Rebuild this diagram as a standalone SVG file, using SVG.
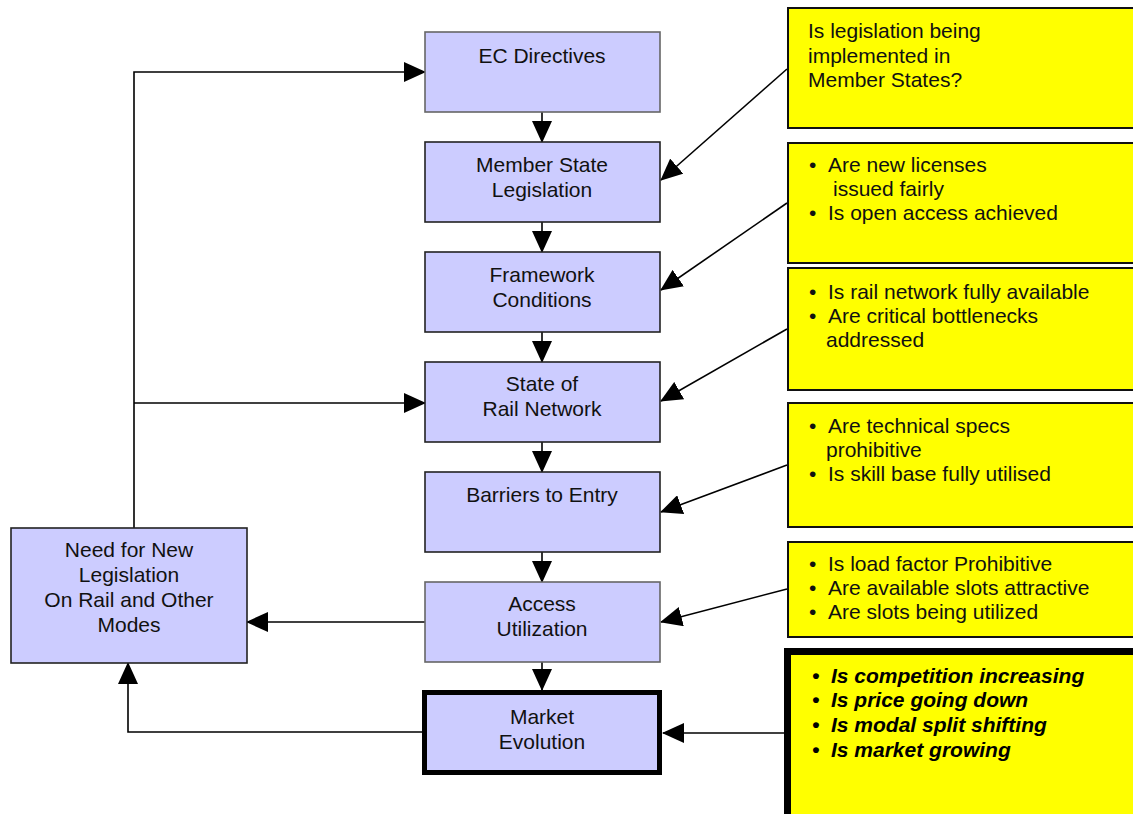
<svg xmlns="http://www.w3.org/2000/svg" width="1133" height="814" viewBox="0 0 1133 814">
<defs>
<marker id="ah" markerUnits="userSpaceOnUse" markerWidth="22" markerHeight="20" refX="21" refY="10" orient="auto">
<path d="M0,0 L22,10 L0,20 Z" fill="#000"/>
</marker>
<style>
.box{fill:#CCCCFF;stroke:#222;stroke-width:1.6}
.boxg{fill:#CCCCFF;stroke:#666;stroke-width:1.6}
.ybox{fill:#FFFF00;stroke:#111;stroke-width:2}
.t{font-family:"Liberation Sans",Arial,sans-serif;font-size:21px;fill:#111;text-anchor:middle}
.y{font-family:"Liberation Sans",Arial,sans-serif;font-size:21px;fill:#111}
.yb{font-family:"Liberation Sans",Arial,sans-serif;font-size:21px;fill:#000;font-weight:bold;font-style:italic}
.c{fill:none;stroke:#000;stroke-width:1.6}
</style>
</defs>
<rect width="1133" height="814" fill="#fff"/>

<g id="connectors">
<path class="c" d="M134,528 V72 H425" marker-end="url(#ah)"/>
<path class="c" d="M134,403 H425" marker-end="url(#ah)"/>
<path class="c" d="M425,622 H247" marker-end="url(#ah)"/>
<path class="c" d="M422,732 H128 V663" marker-end="url(#ah)"/>
<path class="c" d="M542,112 V142" marker-end="url(#ah)"/>
<path class="c" d="M542,222 V252" marker-end="url(#ah)"/>
<path class="c" d="M542,332 V362" marker-end="url(#ah)"/>
<path class="c" d="M542,442 V472" marker-end="url(#ah)"/>
<path class="c" d="M542,552 V582" marker-end="url(#ah)"/>
<path class="c" d="M542,662 V690" marker-end="url(#ah)"/>
<path class="c" d="M787,69 L661,180" marker-end="url(#ah)"/>
<path class="c" d="M787,203 L661,290" marker-end="url(#ah)"/>
<path class="c" d="M787,329 L661,401" marker-end="url(#ah)"/>
<path class="c" d="M787,465 L661,512" marker-end="url(#ah)"/>
<path class="c" d="M787,589 L661,622" marker-end="url(#ah)"/>
<path class="c" d="M784,733 L663,733" marker-end="url(#ah)"/>
</g>

<g id="ec-directives">
<rect class="boxg" x="425" y="32" width="235" height="80"/>
<text class="t" x="542" y="63">EC Directives</text>
</g>
<g id="member-state">
<rect class="box" x="425" y="142" width="235" height="80"/>
<text class="t" x="542" y="172">Member State</text>
<text class="t" x="542" y="197">Legislation</text>
</g>
<g id="framework">
<rect class="box" x="425" y="252" width="235" height="80"/>
<text class="t" x="542" y="282">Framework</text>
<text class="t" x="542" y="307">Conditions</text>
</g>
<g id="state-rail">
<rect class="box" x="425" y="362" width="235" height="80"/>
<text class="t" x="542" y="391">State of</text>
<text class="t" x="542" y="416">Rail Network</text>
</g>
<g id="barriers">
<rect class="box" x="425" y="472" width="235" height="80"/>
<text class="t" x="542" y="502">Barriers to Entry</text>
</g>
<g id="access">
<rect class="boxg" x="425" y="582" width="235" height="80"/>
<text class="t" x="542" y="611">Access</text>
<text class="t" x="542" y="636">Utilization</text>
</g>
<g id="market">
<rect x="424.5" y="692.5" width="235" height="80" fill="#CCCCFF" stroke="#000" stroke-width="5"/>
<text class="t" x="542" y="724">Market</text>
<text class="t" x="542" y="749">Evolution</text>
</g>
<g id="need">
<rect class="box" x="11" y="528" width="236" height="135"/>
<text class="t" x="129" y="557">Need for New</text>
<text class="t" x="129" y="582">Legislation</text>
<text class="t" x="129" y="607">On Rail and Other</text>
<text class="t" x="129" y="632">Modes</text>
</g>

<g id="q1">
<rect class="ybox" x="788" y="8" width="360" height="120"/>
<text class="y" x="808" y="38">Is legislation being</text>
<text class="y" x="808" y="63">implemented in</text>
<text class="y" x="808" y="87">Member States?</text>
</g>
<g id="q2">
<rect class="ybox" x="788" y="143" width="360" height="120"/>
<text class="y" x="809" y="172">•</text><text class="y" x="828" y="172">Are new licenses</text>
<text class="y" x="833" y="196">issued fairly</text>
<text class="y" x="809" y="220">•</text><text class="y" x="828" y="220">Is open access achieved</text>
</g>
<g id="q3">
<rect class="ybox" x="788" y="268" width="360" height="122"/>
<text class="y" x="809" y="299">•</text><text class="y" x="828" y="299">Is rail network fully available</text>
<text class="y" x="809" y="323">•</text><text class="y" x="828" y="323">Are critical bottlenecks</text>
<text class="y" x="826" y="347">addressed</text>
</g>
<g id="q4">
<rect class="ybox" x="788" y="403" width="360" height="124"/>
<text class="y" x="809" y="433">•</text><text class="y" x="828" y="433">Are technical specs</text>
<text class="y" x="826" y="457">prohibitive</text>
<text class="y" x="809" y="481">•</text><text class="y" x="828" y="481">Is skill base fully utilised</text>
</g>
<g id="q5">
<rect class="ybox" x="788" y="542" width="360" height="95"/>
<text class="y" x="809" y="571">•</text><text class="y" x="828" y="571">Is load factor Prohibitive</text>
<text class="y" x="809" y="595">•</text><text class="y" x="828" y="595">Are available slots attractive</text>
<text class="y" x="809" y="619">•</text><text class="y" x="828" y="619">Are slots being utilized</text>
</g>
<g id="q6">
<rect x="787.5" y="651.5" width="360" height="170" fill="#FFFF00" stroke="#000" stroke-width="7"/>
<text class="yb" x="812" y="683">•</text><text class="yb" x="831" y="683">Is competition increasing</text>
<text class="yb" x="812" y="707">•</text><text class="yb" x="831" y="707">Is price going down</text>
<text class="yb" x="812" y="732">•</text><text class="yb" x="831" y="732">Is modal split shifting</text>
<text class="yb" x="812" y="757">•</text><text class="yb" x="831" y="757">Is market growing</text>
</g>
</svg>
